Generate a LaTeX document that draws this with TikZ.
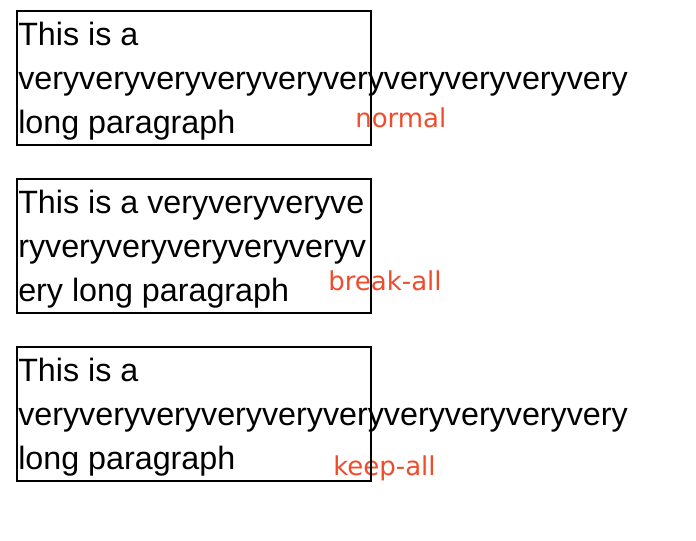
\documentclass[tikz,border=0pt]{standalone}
\usepackage{fontspec}
\setmainfont{Liberation Sans}
\newfontfamily\labelfont{DejaVu Sans}
\definecolor{lblred}{RGB}{240,76,44}
\begin{document}
\begin{tikzpicture}[x=0.75pt,y=-0.75pt,
  txt/.style={anchor=base west,inner sep=0pt,font=\fontsize{24.2}{28}\selectfont},
  lbl/.style={anchor=base west,inner sep=0pt,text=lblred,font=\labelfont\fontsize{19.5}{22}\selectfont},
  frame/.style={draw=black,line width=1.5pt}]
\useasboundingbox (0,0) rectangle (696,540);
% box 1: normal
\node[txt] (a1) at (18,45) {This is a};
\node[txt] (a2) at (18,89) {veryveryveryveryveryveryveryveryveryvery};
\node[txt] (a3) at (18,133) {long paragraph};
\node[lbl] (la) at (355,127) {normal};
\draw[frame] (17,11) rectangle (371,145);
% box 2: break-all
\node[txt] (b1) at (18,213) {This is a veryveryveryve};
\node[txt] (b2) at (18,257) {ryveryveryveryveryveryv};
\node[txt] (b3) at (18,301) {ery long paragraph};
\node[lbl] (lb) at (328,290) {break-all};
\draw[frame] (17,179) rectangle (371,313);
% box 3: keep-all
\node[txt] (c1) at (18,381) {This is a};
\node[txt] (c2) at (18,425) {veryveryveryveryveryveryveryveryveryvery};
\node[txt] (c3) at (18,469) {long paragraph};
\node[lbl] (lc) at (333,475) {keep-all};
\draw[frame] (17,347) rectangle (371,481);
\end{tikzpicture}
\end{document}
